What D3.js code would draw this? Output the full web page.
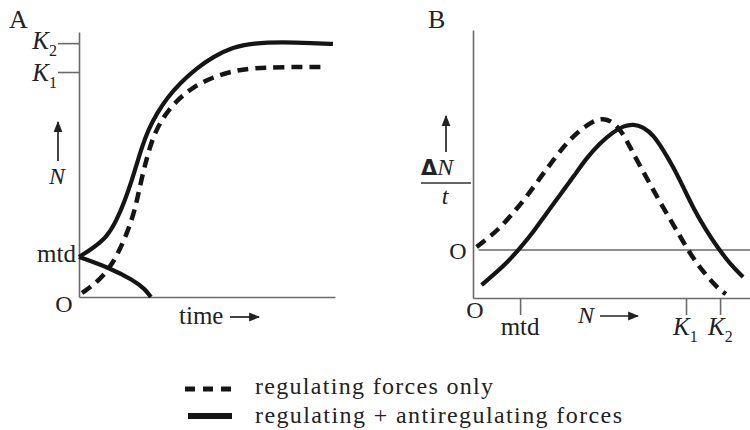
<!DOCTYPE html>
<html>
<head>
<meta charset="utf-8">
<script src="https://cdn.jsdelivr.net/npm/d3@7"></script>
<style>
  body { margin: 0; background: #fff; }
  svg text { font-family: 'Liberation Serif', 'DejaVu Serif', serif; fill: #222; }
</style>
</head>
<body>
<svg id="chart" width="750" height="430"></svg>
<script>
// panel A : N over time, [time, N]
const growthRegulating = [
  [1.2, 1.5], [8.2, 6.4], [13.3, 12.8], [17.2, 20.4], [20.7, 29.1], [22.7, 36.6],
  [24.6, 45.3], [26.6, 52.8], [28.9, 60.4], [32.8, 67.9], [38.3, 74.3],
  [44.5, 79.2], [52.3, 83.0], [60.2, 85.3], [68.0, 86.4], [79.7, 86.8], [95.3, 86.8],
];
const growthBoth = [
  [0, 15.1], [5.5, 18.5], [10.9, 22.6], [14.8, 29.1], [18.0, 36.6], [20.7, 44.2],
  [22.7, 50.6], [24.6, 56.6], [27.0, 63.0], [30.5, 69.4], [34.4, 75.1],
  [39.5, 80.8], [46.1, 86.4], [52.3, 90.6], [60.2, 94.3], [68.0, 95.8],
  [79.7, 96.2], [91.4, 95.8], [99.2, 95.5],
];
const declineBelowMtd = [[0, 15.1], [12.1, 10.9], [21.1, 6.4], [25.8, 3.0], [28.1, 0]];
const levelsA = { mtd: 15.1, K1: 84.9, K2: 95.8 };

// panel B : growth rate over N, [N, dN/t]
const rateRegulating = [
  [1.3, 0.3], [5.5, 1.2], [9.7, 2.2], [14.5, 3.7], [19.3, 5.3], [24.2, 7.2],
  [29.0, 9.0], [33.8, 10.7], [38.6, 12.0], [43.4, 12.9], [47.0, 13.2],
  [50.6, 12.8], [53.8, 11.8], [56.7, 10.3], [60.3, 8.4], [63.9, 6.6],
  [67.5, 4.8], [71.1, 3.1], [74.7, 1.4], [77.6, 0], [80.5, -1.2],
  [83.0, -2.1], [86.3, -3.2], [89.2, -4.0], [91.3, -4.4],
];
const rateBoth = [
  [3.1, -3.5], [7.3, -2.5], [12.2, -1.3], [17.0, 0.2], [21.8, 1.8], [26.6, 3.7],
  [31.4, 5.5], [36.2, 7.3], [41.0, 9.2], [45.8, 10.7], [50.6, 11.8],
  [54.3, 12.4], [57.9, 12.6], [61.5, 12.3], [65.1, 11.5], [68.7, 10.0],
  [72.3, 8.3], [75.9, 6.3], [79.5, 4.2], [84.1, 2.0], [88.4, 0.2],
  [93.1, -1.5], [97.5, -2.7],
];
const levelsB = { mtd: 17.0, K1: 76.9, K2: 89.2 };

const legendLabels = ['regulating forces only', 'regulating + antiregulating forces'];

const svg = d3.select('#chart');
const ink = '#151515';
const axisColor = '#6a6a6a';

svg.append('defs').append('marker')
  .attr('id', 'head')
  .attr('viewBox', '0 0 10 10')
  .attr('refX', 9).attr('refY', 5)
  .attr('markerWidth', 11).attr('markerHeight', 11)
  .attr('markerUnits', 'userSpaceOnUse')
  .attr('orient', 'auto')
  .append('path')
  .attr('d', 'M0,1 L10,5 L0,9 Z')
  .attr('fill', '#222');

function arrow(x1, y1, x2, y2) {
  svg.append('line')
    .attr('x1', x1).attr('y1', y1).attr('x2', x2).attr('y2', y2)
    .attr('stroke', '#222').attr('stroke-width', 1.7)
    .attr('marker-end', 'url(#head)');
}

function kLabel(x, y, sub, anchorEnd) {
  const t = svg.append('text')
    .attr('x', x).attr('y', y)
    .attr('text-anchor', anchorEnd ? 'end' : 'start')
    .style('font-size', '25px');
  t.append('tspan').text('K').style('font-style', 'italic');
  t.append('tspan').text(sub).attr('dy', 7).style('font-size', '16px');
}

function styleAxis(g) {
  g.select('.domain').attr('stroke', axisColor).attr('stroke-width', 1.6);
  g.selectAll('.tick line').attr('stroke', axisColor).attr('stroke-width', 1.6);
  g.selectAll('.tick text').remove();
}

const line = d3.line().curve(d3.curveBasis);

// ---------- panel A ----------
const xA = d3.scaleLinear().domain([0, 100]).range([79, 335]);
const yA = d3.scaleLinear().domain([0, 100]).range([297, 32]);

svg.append('g')
  .attr('transform', `translate(${xA(0)},0)`)
  .call(d3.axisLeft(yA).tickValues([levelsA.K1, levelsA.K2]).tickSize(21).tickSizeOuter(0))
  .call(styleAxis);
svg.append('g')
  .attr('transform', `translate(0,${yA(0)})`)
  .call(d3.axisBottom(xA).tickValues([]).tickSizeOuter(0))
  .call(styleAxis);

line.x(d => xA(d[0])).y(d => yA(d[1]));
svg.append('path').attr('d', line(growthRegulating))
  .attr('fill', 'none').attr('stroke', ink).attr('stroke-width', 4.5)
  .attr('stroke-dasharray', '11,7');
svg.append('path').attr('d', line(growthBoth))
  .attr('fill', 'none').attr('stroke', ink).attr('stroke-width', 4.2);
svg.append('path').attr('d', line(declineBelowMtd))
  .attr('fill', 'none').attr('stroke', ink).attr('stroke-width', 4.2);

svg.append('text').attr('x', 9).attr('y', 28).text('A').style('font-size', '26px');
kLabel(57, yA(levelsA.K2) + 6, '2', true);
kLabel(57, yA(levelsA.K1) + 9, '1', true);
svg.append('text').attr('x', 76).attr('y', yA(levelsA.mtd) + 5)
  .attr('text-anchor', 'end').text('mtd').style('font-size', '25px');
svg.append('text').attr('x', 64).attr('y', 312)
  .attr('text-anchor', 'middle').text('O').style('font-size', '24px');
arrow(58, 161, 58, 122);
svg.append('text').attr('x', 57).attr('y', 184)
  .attr('text-anchor', 'middle').text('N')
  .style('font-size', '24px').style('font-style', 'italic');
svg.append('text').attr('x', 179).attr('y', 324).text('time').style('font-size', '25px');
arrow(230, 317, 259, 317);

// ---------- panel B ----------
const xB = d3.scaleLinear().domain([0, 100]).range([473, 750]);
const yB = d3.scaleLinear().domain([-4.8, 22]).range([298, 30]);

svg.append('g')
  .attr('transform', `translate(${xB(0)},0)`)
  .call(d3.axisLeft(yB).tickValues([]).tickSizeOuter(0))
  .call(styleAxis);
svg.append('g')
  .attr('transform', `translate(0,${yB(-4.8)})`)
  .call(d3.axisBottom(xB).tickValues([levelsB.mtd, levelsB.K1, levelsB.K2]).tickSize(17).tickSizeOuter(0))
  .call(styleAxis);
svg.append('line')
  .attr('x1', xB(2)).attr('x2', xB(100))
  .attr('y1', yB(0)).attr('y2', yB(0))
  .attr('stroke', axisColor).attr('stroke-width', 1.6);

line.x(d => xB(d[0])).y(d => yB(d[1]));
svg.append('path').attr('d', line(rateRegulating))
  .attr('fill', 'none').attr('stroke', ink).attr('stroke-width', 4.5)
  .attr('stroke-dasharray', '11,7');
svg.append('path').attr('d', line(rateBoth))
  .attr('fill', 'none').attr('stroke', ink).attr('stroke-width', 4.2);

svg.append('text').attr('x', 428).attr('y', 28).text('B').style('font-size', '26px');
arrow(446, 152, 446, 116);
const dn = svg.append('text').attr('x', 421).attr('y', 175).style('font-size', '24px');
dn.append('tspan').text('Δ').style('font-family', 'DejaVu Sans').style('font-weight', 'bold').style('font-size', '21px');
dn.append('tspan').text('N').style('font-style', 'italic');
svg.append('line').attr('x1', 421).attr('x2', 471).attr('y1', 183).attr('y2', 183)
  .attr('stroke', '#333').attr('stroke-width', 1.4);
svg.append('text').attr('x', 445).attr('y', 204).attr('text-anchor', 'middle')
  .text('t').style('font-size', '24px').style('font-style', 'italic');
svg.append('text').attr('x', 458).attr('y', 259).attr('text-anchor', 'middle')
  .text('O').style('font-size', '24px');
svg.append('text').attr('x', 475).attr('y', 318).attr('text-anchor', 'middle')
  .text('O').style('font-size', '24px');
svg.append('text').attr('x', xB(levelsB.mtd)).attr('y', 335).attr('text-anchor', 'middle')
  .text('mtd').style('font-size', '25px');
svg.append('text').attr('x', 586).attr('y', 323).attr('text-anchor', 'middle')
  .text('N').style('font-size', '24px').style('font-style', 'italic');
arrow(600, 316, 638, 316);
kLabel(xB(levelsB.K1) - 13, 335, '1', false);
kLabel(xB(levelsB.K2) - 12, 335, '2', false);

// ---------- legend ----------
const legendWidths = [238, 367];
const legend = svg.append('g');
legend.append('line').attr('x1', 185).attr('x2', 233).attr('y1', 389).attr('y2', 389)
  .attr('stroke', ink).attr('stroke-width', 5).attr('stroke-dasharray', '10,8');
legend.append('line').attr('x1', 188).attr('x2', 232).attr('y1', 416).attr('y2', 416)
  .attr('stroke', ink).attr('stroke-width', 6);
legend.selectAll('text.leg')
  .data(legendLabels)
  .enter()
  .append('text')
  .attr('class', 'leg')
  .attr('x', 255)
  .attr('y', (d, i) => 394 + i * 29)
  .attr('textLength', (d, i) => legendWidths[i])
  .attr('lengthAdjust', 'spacing')
  .text(d => d)
  .style('font-size', '24px');
</script>
</body>
</html>
